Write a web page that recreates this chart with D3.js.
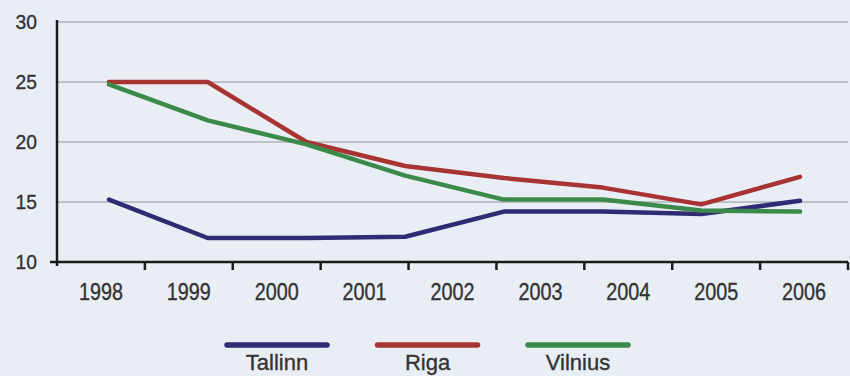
<!DOCTYPE html>
<html>
<head>
<meta charset="utf-8">
<script src="https://cdn.jsdelivr.net/npm/d3@7/dist/d3.min.js"></script>
<style>
  html, body { margin: 0; padding: 0; background: #e9eef4; }
  svg { display: block; }
  text { font-family: "Liberation Sans", Arial, sans-serif; fill: #333; stroke: #333; stroke-width: 0.35; }
</style>
</head>
<body>
<svg id="chart" width="850" height="376"></svg>
<script>
// Year labels along the horizontal axis
const years = ["1998", "1999", "2000", "2001", "2002", "2003", "2004", "2005", "2006"];
// Vertical axis ticks
const yTicks = [10, 15, 20, 25, 30];
// Series (eight observations each)
const tallinn = [15.2, 12.0, 12.0, 12.1, 14.2, 14.2, 14.0, 15.1];
const riga    = [25.0, 25.0, 20.0, 18.0, 17.0, 16.2, 14.8, 17.1];
const vilnius = [24.8, 21.8, 19.8, 17.2, 15.2, 15.2, 14.3, 14.2];
const seriesNames = ["Tallinn", "Riga", "Vilnius"];
const seriesColors = ["#2f2c74", "#a83333", "#3b8a4b"];

const svg = d3.select("#chart");
const W = 850, H = 376;

svg.append("rect").attr("width", W).attr("height", H).attr("fill", "#e9eef4");

const plotLeft = 57, plotRight = 848, plotTop = 22, plotBottom = 262;

const x = d3.scaleBand().domain(years).range([plotLeft, plotRight]);
const y = d3.scaleLinear().domain([10, 30]).range([plotBottom, plotTop]);
const xp = d3.scalePoint().domain(d3.range(tallinn.length)).range([109, 800]);

// condensed label: text placed at (px, py) and squeezed horizontally
function label(sel, px, py, size, sx, anchor) {
  return sel.append("text")
    .attr("transform", (d, i) => `translate(${px(d, i)},${py(d, i)}) scale(${sx},1)`)
    .attr("text-anchor", anchor)
    .attr("font-size", size);
}

// horizontal gridlines
svg.append("g").selectAll("line").data(yTicks.filter(d => d > 10)).join("line")
  .attr("x1", plotLeft).attr("x2", plotRight)
  .attr("y1", d => y(d)).attr("y2", d => y(d))
  .attr("stroke", "#aeb2b8").attr("stroke-width", 1.5);

// y axis labels
const yl = svg.append("g").selectAll("g").data(yTicks).join("g");
label(yl, () => 37, d => y(d) + 7, 21, 0.92, "end").text(d => d);

// y axis line
svg.append("line")
  .attr("x1", plotLeft).attr("x2", plotLeft).attr("y1", plotTop - 2).attr("y2", plotBottom + 4)
  .attr("stroke", "#1c1c1c").attr("stroke-width", 2.5);

// x axis line
svg.append("line")
  .attr("x1", plotLeft - 7).attr("x2", plotRight).attr("y1", plotBottom).attr("y2", plotBottom)
  .attr("stroke", "#1c1c1c").attr("stroke-width", 2.5);

// x ticks at band edges
const edges = years.map(d => x(d)).concat([x(years[years.length - 1]) + x.bandwidth()]);
svg.append("g").selectAll("line").data(edges.slice(1)).join("line")
  .attr("x1", d => d).attr("x2", d => d)
  .attr("y1", plotBottom).attr("y2", plotBottom + 8)
  .attr("stroke", "#1c1c1c").attr("stroke-width", 2.5);

// year labels
const xl = svg.append("g").selectAll("g").data(years).join("g");
label(xl, d => x(d) + x.bandwidth() / 2, () => plotBottom + 38, 23, 0.86, "middle").text(d => d);

// series lines
const line = d3.line().x((d, i) => xp(i)).y(d => y(d));
const seriesData = [tallinn, riga, vilnius];
svg.append("g").selectAll("path").data(seriesData).join("path")
  .attr("d", d => line(d))
  .attr("fill", "none")
  .attr("stroke", (d, i) => seriesColors[i])
  .attr("stroke-width", 4.5)
  .attr("stroke-linejoin", "round")
  .attr("stroke-linecap", "round");

// legend
const legendX = d3.scalePoint().domain(seriesNames).range([277, 578]);
const lg = svg.append("g").selectAll("g").data(seriesNames).join("g");
lg.append("line")
  .attr("x1", d => legendX(d) - 50).attr("x2", d => legendX(d) + 50)
  .attr("y1", 345).attr("y2", 345)
  .attr("stroke", (d, i) => seriesColors[i])
  .attr("stroke-width", 5.5)
  .attr("stroke-linecap", "round");
label(lg, d => legendX(d), () => 370, 22, 1, "middle").text(d => d);
</script>
</body>
</html>
